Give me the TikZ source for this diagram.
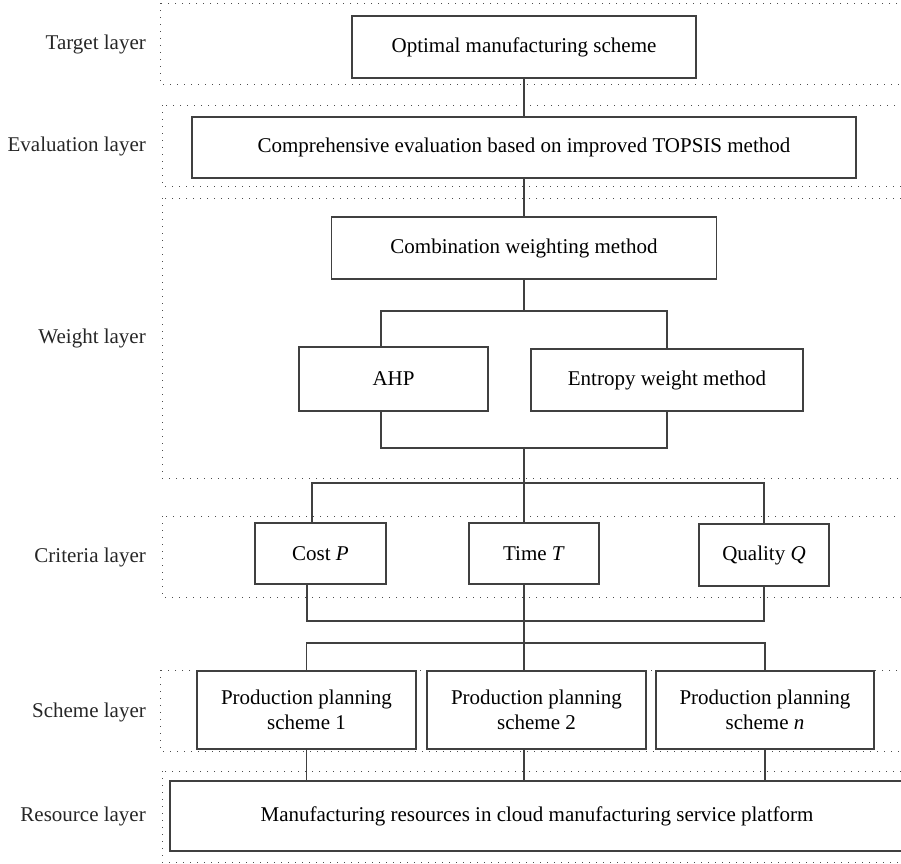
\documentclass[tikz,border=0pt]{standalone}
\usepackage{fontspec}
\setmainfont{Liberation Serif}
\usetikzlibrary{calc}

\begin{document}
\begin{tikzpicture}[
x=1pt, y=-1pt,
layer/.style={draw=black!70, line width=1pt, dash pattern=on 1pt off 6pt},
block/.style={rectangle, draw=black!75, line width=1.3pt, inner sep=0pt, align=center, font=\fontsize{21}{25}\selectfont},
tag/.style={anchor=east, inner sep=0pt, font=\fontsize{21}{25}\selectfont, text=black!85},
link/.style={draw=black!75, line width=1.2pt},
]
\useasboundingbox (0,0) rectangle (901,863);
\draw[layer] (160,3) rectangle (906,84);
\draw[layer] (162,105) rectangle (906,186);
\draw[layer] (162,198) rectangle (906,478);
\draw[layer] (162,516) rectangle (906,597);
\draw[layer] (160,670) rectangle (906,751);
\draw[layer] (162,771) rectangle (906,862);

\node (tTarget) [tag] at (146,44) {Target layer};
\node (tEval) [tag] at (146,146) {Evaluation layer};
\node (tWeight) [tag] at (146,338) {Weight layer};
\node (tCrit) [tag] at (146,557) {Criteria layer};
\node (tScheme) [tag] at (146,712) {Scheme layer};
\node (tRes) [tag] at (146,816) {Resource layer};

\node (opt) [block, minimum width=344, minimum height=62] at (524,47) {Optimal manufacturing scheme};
\node (eval) [block, minimum width=664, minimum height=61] at (524,147.5) {Comprehensive evaluation based on improved TOPSIS method};
\node (comb) [block, minimum width=385, minimum height=62] at (524,248) {Combination weighting method};
\node (ahp) [block, minimum width=189, minimum height=64] at (393.5,379) {AHP};
\node (ent) [block, minimum width=272, minimum height=62] at (667,380) {Entropy weight method};
\node (cost) [block, minimum width=131, minimum height=61] at (320.5,553.5) {Cost \textit{P}};
\node (time) [block, minimum width=130, minimum height=61] at (534,553.5) {Time \textit{T}};
\node (qual) [block, minimum width=130, minimum height=62] at (764,555) {Quality \textit{Q}};
\node (s1) [block, minimum width=219, minimum height=78] at (306.5,710) {Production planning\\scheme 1};
\node (s2) [block, minimum width=219, minimum height=78] at (536.5,710) {Production planning\\scheme 2};
\node (sn) [block, minimum width=218, minimum height=78] at (765,710) {Production planning\\scheme \textit{n}};
\node (res) [block, minimum width=734, minimum height=70] at (537,816) {Manufacturing resources in cloud manufacturing service platform};

\coordinate (ahpx) at (381,0);
\coordinate (costx) at (312,0);
\coordinate (costy) at (307,0);
\coordinate (j1) at (524,311);
\coordinate (j2) at (524,448);
\coordinate (j3) at (524,483);
\coordinate (j4) at (524,621);
\coordinate (j5) at (524,643);

\draw[link] (opt.south) -- (eval.north);
\draw[link] (eval.south) -- (comb.north);
\draw[link] (comb.south) -- (j1);
\draw[link] (ahp.north -| ahpx) |- (j1) -| (ent.north);
\draw[link] (ahp.south -| ahpx) |- (j2) -| (ent.south);
\draw[link] (j2) -- (time.north -| j2);
\draw[link] (cost.north -| costx) |- (j3) -| (qual.north);
\draw[link] (cost.south -| costy) |- (j4) -| (qual.south);
\draw[link] (time.south -| j4) -- (s2.north -| j4);
\draw[link] (s1.north) |- (j5) -| (sn.north);
\draw[link] (s1.south) -- (s1.south |- res.north);
\draw[link] (s2.south -| j5) -- (res.north -| j5);
\draw[link] (sn.south) -- (sn.south |- res.north);
\end{tikzpicture}
\end{document}
